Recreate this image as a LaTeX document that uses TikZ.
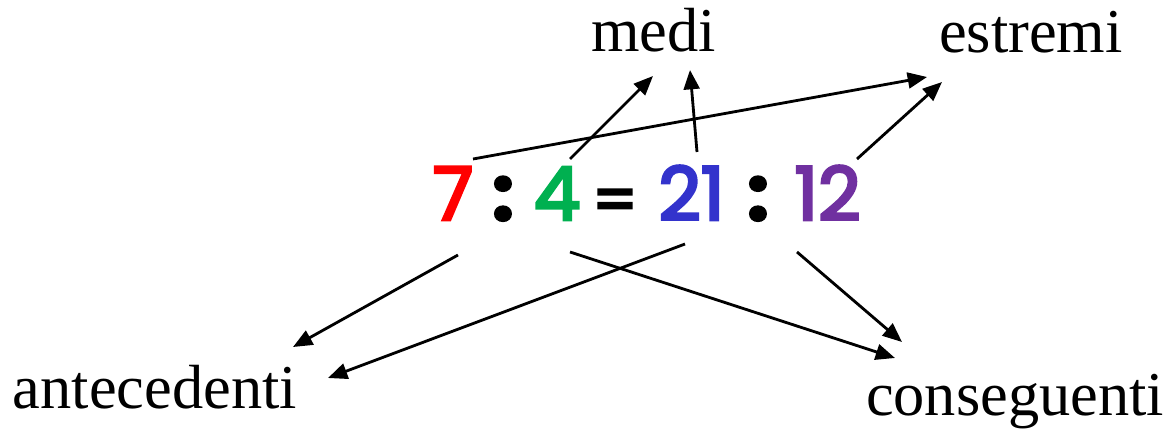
\documentclass[tikz,border=0pt]{standalone}
\usepackage{fontspec}
\setmainfont{Liberation Serif}
\newfontfamily\digitfont[FakeBold=4]{Poppins}
\usepackage{xcolor}
\usepackage{tikz}
\usetikzlibrary{arrows.meta, positioning}
\definecolor{numred}{RGB}{255, 0, 0}
\definecolor{numgreen}{RGB}{0, 176, 80}
\definecolor{numblue}{RGB}{51, 51, 204}
\definecolor{numpurple}{RGB}{112, 48, 160}

\begin{document}
\begin{tikzpicture}[
    term/.style={anchor=base, inner sep=0pt, font=\fontsize{35.5}{40}\selectfont},
    num/.style={anchor=base, inner sep=0pt, font=\digitfont\fontsize{42}{46}\selectfont},
    sign/.style={num, font=\digitfont\bfseries\fontsize{42}{46}\selectfont},
    arr/.style={-{Triangle[length=11pt, width=9pt]}, line width=1.6pt}
  ]
  \useasboundingbox (0,0) rectangle (23.48,8.66);

  % the proportion
  \node[num, numred]    (n7)  at (9.06,4.26)  {7};
  \node[sign]           (c1)  at (10.06,4.26) {:};
  \node[num, numgreen]  (n4)  at (11.14,4.26) {4};
  \node[num, font=\digitfont\fontsize{36}{40}\selectfont] (eq) at (12.30,4.22) {=};
  \node[num, numblue]   (n21) at (13.83,4.26) {21};
  \node[sign]           (c2)  at (15.16,4.26) {:};
  \node[num, numpurple] (n12) at (16.55,4.26) {12};

  % names of the terms
  \node[term] (medi)        at (13.07,7.62) {medi};
  \node[term] (estremi)     at (20.62,7.60) {estremi};
  \node[term] (antecedenti) at (3.10,0.50)  {antecedenti};
  \node[term] (conseguenti) at (20.30,0.36) {conseguenti};

  % upper arrows
  \draw[arr] ([shift={(0.40,1.22)}]n7.base)  -- ([shift={(-2.08,-0.48)}]estremi.base);
  \draw[arr] ([shift={(0.26,1.22)}]n4.base)  -- ([shift={(-0.01,-0.48)}]medi.base);
  \draw[arr] ([shift={(0.11,1.36)}]n21.base) -- ([shift={(0.73,-0.36)}]medi.base);
  \draw[arr] ([shift={(0.59,1.22)}]n12.base) -- ([shift={(-1.78,-0.58)}]estremi.base);

  % lower arrows
  \draw[arr] ([shift={(0.10,-0.70)}]n7.base)   -- ([shift={(2.76,1.22)}]antecedenti.base);
  \draw[arr] ([shift={(-0.13,-0.48)}]n21.base) -- ([shift={(3.46,0.60)}]antecedenti.base);
  \draw[arr] ([shift={(0.26,-0.64)}]n4.base)   -- ([shift={(-2.40,1.14)}]conseguenti.base);
  \draw[arr] ([shift={(-0.61,-0.64)}]n12.base) -- ([shift={(-2.26,1.46)}]conseguenti.base);
\end{tikzpicture}
\end{document}
